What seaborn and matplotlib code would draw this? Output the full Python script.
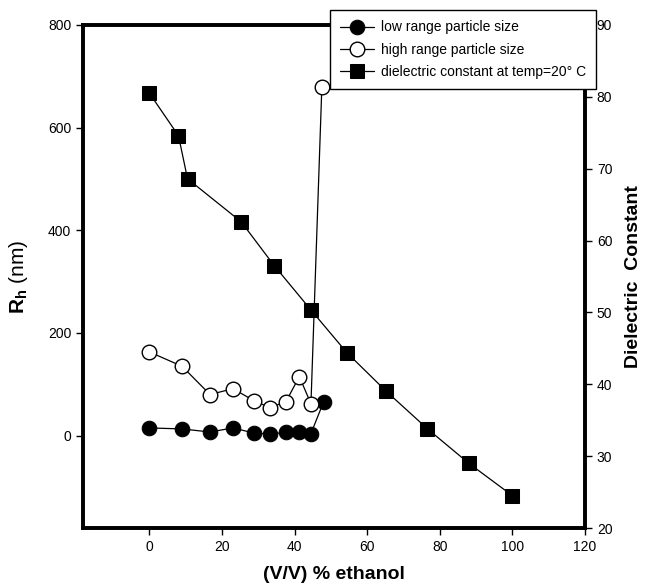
import numpy as np
import matplotlib
matplotlib.use("Agg")
import matplotlib.pyplot as plt
import seaborn as sns

# data
ethanol_small = [0, 9, 16.7, 23, 28.8, 33.2, 37.6, 41.3, 44.5, 48]
rh_low = [15, 13, 7, 15, 5, 3, 6.5, 8, 4, 66]

ethanol_large = [0, 9, 16.7, 23, 28.8, 33.2, 37.6, 41.3, 44.5, 47.5]
rh_high = [163, 135, 80, 91.5, 68, 54.5, 66, 115, 62, 679]

ethanol_diel = [0, 8, 10.5, 25.3, 34.4, 44.4, 54.4, 65.3, 76.6, 88, 100]
dielectric = [80.5, 74.6, 68.6, 62.6, 56.5, 50.4, 44.4, 39.0, 33.8, 29.0, 24.5]

sns.set_style("ticks")
plt.rcParams['font.family'] = ['Liberation Sans', 'DejaVu Sans']
plt.rcParams['mathtext.fontset'] = 'custom'
plt.rcParams['mathtext.rm'] = 'Liberation Sans'
plt.rcParams['mathtext.bf'] = 'Liberation Sans:bold'
plt.rcParams['text.color'] = 'black'
plt.rcParams['axes.labelcolor'] = 'black'
plt.rcParams['xtick.color'] = 'black'
plt.rcParams['ytick.color'] = 'black'

fig = plt.figure(figsize=(6.47, 5.87), dpi=100)
ax = fig.add_axes([83/647, 1 - 528/587, (585 - 83)/647, (528 - 25)/587])
ax2 = ax.twinx()

# particle size on the left axis
sns.lineplot(x=ethanol_small, y=rh_low, ax=ax, color='black', lw=0.9, sort=False,
             marker='o', markersize=10.5, markerfacecolor='black', markeredgecolor='black',
             label='low range particle size', legend=False)
sns.lineplot(x=ethanol_large, y=rh_high, ax=ax, color='black', lw=0.9, sort=False,
             marker='o', markersize=10.5, markerfacecolor='white', markeredgecolor='black',
             markeredgewidth=1.0, label='high range particle size', legend=False)

# dielectric constant on the right axis
sns.lineplot(x=ethanol_diel, y=dielectric, ax=ax2, color='black', lw=0.9, sort=False,
             marker='s', markersize=10, markerfacecolor='black', markeredgecolor='black',
             label='dielectric constant at temp=20° C', legend=False)

ax.set_xlim(-18.3, 120)
ax.set_ylim(-180, 800)
ax2.set_ylim(20, 90)
ax.set_xticks([0, 20, 40, 60, 80, 100, 120])
ax.set_yticks([0, 200, 400, 600, 800])
ax2.set_yticks([20, 30, 40, 50, 60, 70, 80, 90])

for a in (ax, ax2):
    for s in a.spines.values():
        s.set_linewidth(2.6)
        s.set_color('black')
    a.tick_params(direction='out', length=5, width=1, labelsize=10, colors='black')
    a.grid(False)

ax.set_xlabel('(V/V) % ethanol', fontsize=14, fontweight='bold', labelpad=9)
ax.set_ylabel(r'$\mathbf{R_h}$ (nm)', fontsize=15, labelpad=13)
ax2.set_ylabel('Dielectric  Constant', fontsize=14, fontweight='bold', labelpad=9)

h1, l1 = ax.get_legend_handles_labels()
h2, l2 = ax2.get_legend_handles_labels()
leg = fig.legend(h1 + h2, l1 + l2, loc='upper left', bbox_to_anchor=(330/647, 1 - 10/587),
                 fontsize=10, frameon=True, fancybox=False, framealpha=1, edgecolor='black',
                 handlelength=2.4, handletextpad=0.5, borderpad=0.75, labelspacing=0.6,
                 borderaxespad=0)
leg.get_frame().set_linewidth(1.0)

fig.savefig('out.png', dpi=100)
